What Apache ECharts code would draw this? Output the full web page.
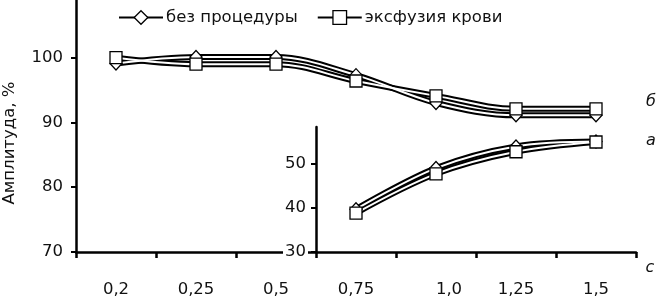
<!DOCTYPE html>
<html>
<head>
<meta charset="utf-8">
<script src="https://cdn.jsdelivr.net/npm/echarts@6/dist/echarts.min.js"></script>
<style>
  html, body { margin: 0; padding: 0; background: #fff; }
  #chart { width: 660px; height: 299px; }
</style>
</head>
<body>
<div id="chart"></div>
<script>
// категории по оси абсцисс
const categories = ['0,2', '0,25', '0,5', '0,75', '1,0', '1,25', '1,5']
const insetCategories = ['0,75', '1,0', '1,25', '1,5']
const seriesNames = ['без процедуры', 'эксфузия крови']

// кривые "б" (основная ось, %)
const noProcB = [99.1, 100.1, 100.1, 97.3, 93.0, 91.1, 91.1]
const exfusionB = [100.0, 99.0, 99.0, 96.4, 94.1, 92.1, 92.1]
// кривые "а" (вставка)
const noProcA = [39.7, 49.0, 53.9, 55.0]
const exfusionA = [38.8, 47.7, 52.7, 54.9]

const mainTicks = [70, 80, 90, 100]
const insetTicks = [30, 40, 50]

const FONT = 'DejaVu Sans'
const TXT = '#111'

const chart = echarts.init(document.getElementById('chart'))

// каждая кривая = чёрный толстый контур + белая середина + маркеры
function curve (name, data, gi, symbol, symbolSize, zMark) {
  const base = {
    type: 'line',
    name: name,
    xAxisIndex: gi,
    yAxisIndex: gi,
    data: data,
    smooth: 0.35,
    silent: true,
    animation: false
  }
  return [
    // маркеры (первыми, чтобы легенда брала значок отсюда)
    Object.assign({}, base, {
      z: zMark,
      symbol: symbol,
      symbolSize: symbolSize,
      showSymbol: true,
      lineStyle: { width: 0, opacity: 0 },
      itemStyle: { color: '#fff', borderColor: '#000', borderWidth: 1.3 }
    }),
    Object.assign({}, base, {
      z: 2,
      symbol: 'none',
      lineStyle: { color: '#000', width: 6 }
    }),
    Object.assign({}, base, {
      z: 3,
      symbol: 'none',
      lineStyle: { color: '#fff', width: 2 }
    })
  ]
}

const option = {
  backgroundColor: '#fff',
  animation: false,
  legend: {
    data: seriesNames,
    left: 113,
    top: 4,
    itemWidth: 44,
    itemHeight: 17,
    itemGap: 19,
    lineStyle: { color: '#000', width: 2, opacity: 1 },
    itemStyle: { color: '#fff', borderColor: '#000', borderWidth: 1.3 },
    textStyle: { fontFamily: FONT, fontSize: 16.5, color: TXT, padding: [0, 0, 0, -2] }
  },
  grid: [
    { left: 76, right: 24, top: 0, bottom: 47 },
    { left: 316, right: 24, top: 127, bottom: 47 }
  ],
  xAxis: [
    {
      gridIndex: 0,
      type: 'category',
      data: categories,
      boundaryGap: true,
      axisLine: { onZero: false, lineStyle: { color: '#000', width: 2.5 } },
      axisTick: { show: true, inside: false, length: 6, lineStyle: { color: '#000', width: 2.5 } },
      axisLabel: {
        margin: 29,
        fontFamily: FONT,
        fontSize: 16.5,
        color: TXT,
        formatter: v => v === '1,0' ? '{s|' + v + '}' : v,
        rich: { s: { fontFamily: FONT, fontSize: 16.5, color: TXT, padding: [0, 0, 0, 26] } }
      },
      splitLine: { show: false }
    },
    {
      gridIndex: 1,
      type: 'category',
      data: insetCategories,
      boundaryGap: true,
      show: false
    }
  ],
  yAxis: [
    {
      gridIndex: 0,
      type: 'value',
      min: 70,
      max: 108.9,
      axisLine: { show: true, onZero: false, lineStyle: { color: '#000', width: 2.5 } },
      axisTick: { show: true, length: 5, customValues: mainTicks, lineStyle: { color: '#000', width: 2 } },
      axisLabel: { margin: 13, customValues: mainTicks, fontFamily: FONT, fontSize: 16.5, color: TXT },
      splitLine: { show: false }
    },
    {
      gridIndex: 1,
      type: 'value',
      min: 30,
      max: 58.3,
      z: 10,
      axisLine: { show: true, onZero: false, lineStyle: { color: '#000', width: 2.5 } },
      axisTick: { show: true, length: 5, customValues: insetTicks, lineStyle: { color: '#000', width: 2 } },
      axisLabel: {
        margin: 8,
        customValues: insetTicks,
        fontFamily: FONT,
        fontSize: 16.5,
        color: TXT,
        backgroundColor: '#fff',
        padding: [0, 2, 0, 2]
      },
      splitLine: { show: false }
    }
  ],
  series: [].concat(
    curve(seriesNames[0], noProcB, 0, 'diamond', [12, 13], 4),
    curve(seriesNames[1], exfusionB, 0, 'rect', 12, 5),
    curve(seriesNames[0], noProcA, 1, 'diamond', [12, 13], 4),
    curve(seriesNames[1], exfusionA, 1, 'rect', 12, 5)
  ),
  graphic: [
    {
      type: 'text',
      x: 10,
      y: 143,
      rotation: Math.PI / 2,
      style: { text: 'Амплитуда, %', fontFamily: FONT, fontSize: 16.5, fill: TXT, align: 'center', verticalAlign: 'middle' }
    },
    { type: 'text', x: 651, y: 102, style: { text: 'б', fontFamily: FONT, fontStyle: 'italic', fontSize: 16, fill: TXT, align: 'center', verticalAlign: 'middle' } },
    { type: 'text', x: 651, y: 141, style: { text: 'а', fontFamily: FONT, fontStyle: 'italic', fontSize: 16, fill: TXT, align: 'center', verticalAlign: 'middle' } },
    { type: 'text', x: 650, y: 268, style: { text: 'с', fontFamily: FONT, fontStyle: 'italic', fontSize: 16, fill: TXT, align: 'center', verticalAlign: 'middle' } }
  ]
}

chart.setOption(option)
</script>
</body>
</html>
